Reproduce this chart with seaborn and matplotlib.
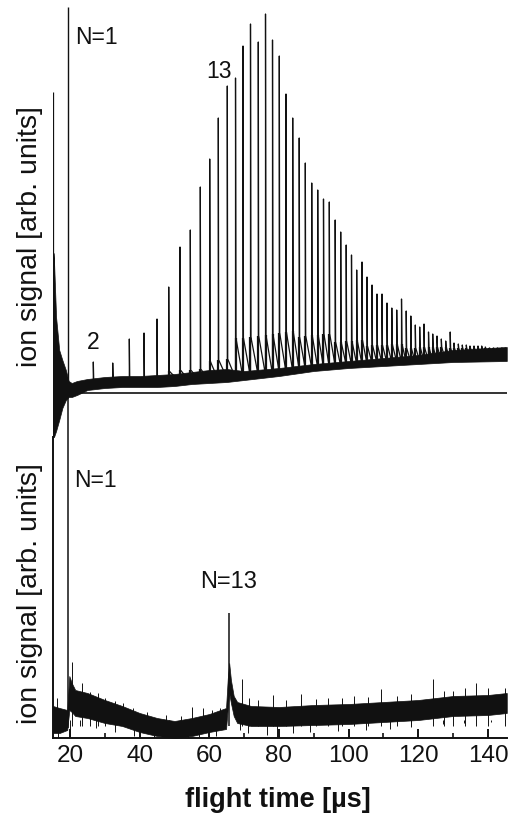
import numpy as np
import pandas as pd
import matplotlib
matplotlib.use("Agg")
import matplotlib.pyplot as plt
import seaborn as sns
from matplotlib.ticker import MultipleLocator

# ---------------- data ----------------
# top panel: cluster peaks N = 1..67 (flight time in us, height in arb. units)
peak_t = [19.34, 26.69, 32.26, 37.03, 41.25, 44.98, 48.34, 51.58, 54.54, 57.41,
          60.11, 62.58, 65.16, 67.52, 69.67, 71.82, 74.06, 76.13, 78.14, 80.09,
          82.01, 83.94, 85.81, 87.56, 89.40, 91.12, 92.78, 94.45, 96.14, 97.72,
          99.30, 100.82, 102.31, 103.84, 105.27, 106.71, 108.14, 109.58, 111.01, 112.39,
          113.80, 115.18, 116.53, 117.85, 119.14, 120.40, 121.64, 122.93, 124.14, 125.37,
          126.61, 127.87, 129.16, 130.25, 131.49, 132.63, 133.78, 134.84, 135.99, 137.14,
          138.20, 139.24, 140.38, 141.53, 142.68, 143.94, 144.89]
peak_top = [386, 31, 30, 54, 60, 74, 106, 146, 163, 206,
            234, 275, 307, 315, 347, 369, 351, 379, 353, 337,
            299, 275, 255, 230, 210, 203, 194, 191, 173, 161,
            148, 138, 123, 131, 116, 108, 99, 99, 90, 85,
            83, 94, 82, 77, 68, 66, 69, 61, 59, 57,
            54, 52, 61, 50, 49, 48, 48, 47, 47, 47,
            47, 46, 45, 45, 45, 45, 44]
peak_base = [0, 8, 9, 10, 10, 10, 10, 11, 11, 12,
             12, 13, 14, 15, 15, 16, 17, 18, 19, 20,
             21, 22, 23, 24, 25, 25, 26, 26, 27, 27,
             28, 28, 29, 29, 29, 30, 30, 30, 30, 31,
             31, 31, 31, 31, 31, 32, 32, 32, 32, 32,
             32, 32, 33, 33, 33, 33, 33, 33, 33, 33,
             33, 33, 33, 33, 33, 33, 33]
peak_tail = [0, 13, 14, 15, 15, 15, 22, 23, 23, 24,
             32, 33, 34, 55, 55, 56, 57, 58, 59, 60,
             61, 62, 56, 57, 58, 58, 59, 59, 51, 51,
             52, 52, 53, 53, 47, 48, 48, 48, 48, 49,
             49, 49, 45, 45, 45, 46, 46, 46, 46, 46,
             46, 46, 45, 45, 45, 45, 45, 45, 45, 45,
             45, 45, 45, 45, 45, 45, 45]

# top panel: ion flash and noise band
flash_t, flash_lo, flash_hi = 15.2, -44, 301
top_band_t = [15.25, 15.4, 16.0, 16.9, 17.8, 18.8, 19.6, 20.5, 22, 25, 30, 35, 40,
              45, 50, 55, 60, 65, 70, 80, 90, 100, 110, 120, 130, 145.4]
top_band_lo = [-44, -44, -38, -27, -15, -7, -4, -4, -2, 3, 5, 6, 6,
               6, 7, 9, 10, 11, 13, 17, 22, 25, 27, 29, 31, 32]
top_band_hi = [140, 133, 76, 43, 33, 23, 12, 10, 12, 14, 16, 17, 17,
               18, 19, 21, 23, 24, 22, 25, 29, 32, 35, 38, 43, 46]

# bottom panel: noise band, main peaks, small spikes and dips
bot_band_t = [15.1, 17.0, 19.2, 19.8, 20.5, 21.5, 25, 30, 35, 40, 45, 50, 55, 60,
              64.8, 65.3, 65.7, 66.2, 67.0, 68.0, 72, 80, 90, 100, 110, 120, 130, 140, 145.4]
bot_band_lo = [5, 5, 8, 28, 26, 22, 20, 15, 12, 6, 2, 0, 2, 6,
               9, 30, 45, 35, 22, 15, 12, 12, 13, 14, 16, 18, 22, 23, 25]
bot_band_hi = [32, 30, 28, 62, 55, 48, 45, 38, 32, 25, 20, 17, 20, 24,
               30, 60, 75, 58, 42, 36, 32, 31, 33, 34, 36, 38, 42, 43, 45]
bot_peak_t = [19.5, 65.55]
bot_peak_top = [345, 125]
bot_peak_base = [10, 12]
bot_spike_t = [16.2, 20.7, 23.5, 25.7, 28.0, 30.0, 33.0, 35.3, 38.0, 42.0, 47.5, 52.0,
               55.0, 58.2, 60.7, 63.1, 69.3, 71.5, 74.0, 78.4, 82.0, 86.2, 90.5, 94.0,
               98.0, 101.5, 105.5, 109.2, 114.0, 118.0, 124.1, 127.5, 130.0, 133.5,
               136.6, 140.0, 144.8]
bot_spike_top = [40, 76, 55, 46, 45, 40, 37, 35, 30, 26, 23, 22,
                 31, 30, 28, 30, 59, 40, 38, 43, 38, 44, 39, 40,
                 40, 42, 41, 49, 42, 44, 59, 47, 47, 50,
                 55, 50, 50]
bot_dip_t = [16.5, 20.1, 23.0, 27.5, 33.0, 38.5, 44.0, 48.5, 51.5, 53.8, 57.0, 62.0,
             68.8, 71.0, 76.5, 79.5, 84.0, 89.0, 97.0, 105.0, 112.0, 118.0, 127.0,
             133.0, 141.0]
bot_dip_bottom = [0, 2, 12, 10, 6, 2, -3, -4, -6, -3, 0, 2,
                  8, 5, 3, 1, 5, 6, 7, 8, 9, 11, 14, 15, 16]

x_ticks = [20, 40, 60, 80, 100, 120, 140]

# ---------------- figure ----------------
sns.set_theme(style="white")
plt.rcParams['font.family'] = ['Liberation Sans', 'DejaVu Sans']

fig = plt.figure(figsize=(5.09, 8.21), dpi=100)
L, W = 52.7 / 509, 454 / 509
XLIM = (15.03, 145.38)
ink = '#111111'

ax_top = fig.add_axes([L, 376 / 821, W, 445 / 821])
ax_bot = fig.add_axes([L, 83 / 821, W, 345 / 821])
for ax in (ax_top, ax_bot):
    ax.set_facecolor('none')
    ax.set_xlim(*XLIM)

# ---- top panel ----
ax_top.set_ylim(-52, 393)
ax_top.fill_between(top_band_t, top_band_lo, top_band_hi, color=ink, lw=0.5)
ax_top.vlines(flash_t, flash_lo, flash_hi, color=ink, lw=0.9)
ax_top.vlines(peak_t[0], peak_base[0], peak_top[0], color=ink, lw=1.0)
ax_top.hlines(0, peak_t[0], XLIM[1], color=ink, lw=1.2)

xs, ys = [19.6], [2]
for t, b, h, tl in zip(peak_t[1:], peak_base[1:], peak_top[1:], peak_tail[1:]):
    xs += [t, t, t + 0.12]
    ys += [b, h, tl]
xs.append(XLIM[1]); ys.append(peak_base[-1])
trace = pd.DataFrame({'t': xs, 'v': ys})
sns.lineplot(data=trace, x='t', y='v', sort=False, estimator=None,
             color=ink, lw=0.9, ax=ax_top)
# thicker falling edge right after each peak
ax_top.vlines(peak_t[1:], peak_base[1:], peak_tail[1:], color=ink, lw=1.6)

ax_top.set_xticks([]); ax_top.set_yticks([])
for s in ax_top.spines.values():
    s.set_visible(False)
ax_top.set_xlabel('')
ax_top.set_ylabel('ion signal [arb. units]', fontsize=20.5, va='center', ha='center', color=ink)
ax_top.yaxis.set_label_coords((30 - 52.7) / 454, (445 - 236.5) / 445)

ax_top.text(27.5, 355, 'N=1', fontsize=16.5, ha='center', va='center', color=ink)
ax_top.text(62.9, 322, '13', fontsize=16.5, ha='center', va='center', color=ink)
ax_top.text(26.7, 51, '2', fontsize=16.5, ha='center', va='center', color=ink)

# ---- bottom panel ----
ax_bot.set_ylim(0, 345)
ax_bot.fill_between(bot_band_t, bot_band_lo, bot_band_hi, color=ink, lw=0.5)
ax_bot.vlines(bot_peak_t, bot_peak_base, bot_peak_top, color=ink, lw=1.1)
ax_bot.vlines(bot_spike_t, 12, bot_spike_top, color=ink, lw=0.7)
ax_bot.vlines(bot_dip_t, bot_dip_bottom, 18, color=ink, lw=0.7)

for s in ('top', 'right'):
    ax_bot.spines[s].set_visible(False)
for s in ('left', 'bottom'):
    ax_bot.spines[s].set_color(ink)
    ax_bot.spines[s].set_linewidth(1.4)
ax_bot.spines['left'].set_bounds(0, 301)

ax_bot.set_xticks(x_ticks)
ax_bot.set_xticklabels([str(v) for v in x_ticks])
ax_bot.xaxis.set_minor_locator(MultipleLocator(10))
ax_bot.set_yticks([])
ax_bot.tick_params(axis='x', which='major', direction='in', length=6.5, width=1.4,
                   labelsize=17.5, pad=5, colors=ink, bottom=True)
ax_bot.tick_params(axis='x', which='minor', direction='in', length=3.6, width=1.2,
                   colors=ink, bottom=True)
ax_bot.set_xlabel('flight time [µs]', fontsize=19.5, fontweight='bold', va='center', color=ink)
ax_bot.xaxis.set_label_coords((278 - 52.7) / 454, (738 - 800) / 345)
ax_bot.set_ylabel('ion signal [arb. units]', fontsize=20.5, va='center', ha='center', color=ink)
ax_bot.yaxis.set_label_coords((30 - 52.7) / 454, (738 - 593.5) / 345)

ax_bot.text(27.2, 258, 'N=1', fontsize=16.5, ha='center', va='center', color=ink)
ax_bot.text(65.6, 156, 'N=13', fontsize=17, ha='center', va='center', color=ink)

fig.savefig('out.png', dpi=100)
